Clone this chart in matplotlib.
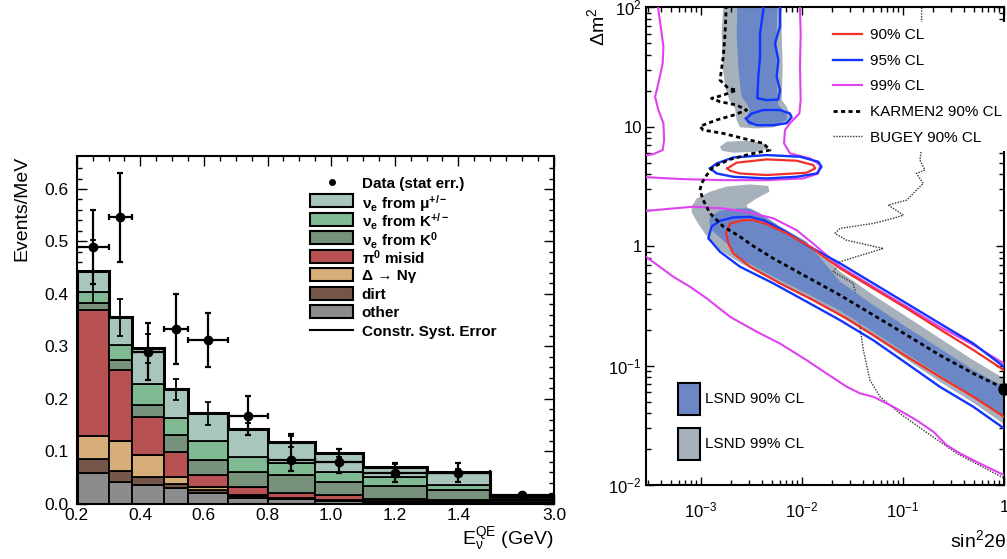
import numpy as np
import matplotlib.pyplot as plt
from matplotlib.lines import Line2D
from matplotlib.patches import Rectangle
from matplotlib.ticker import FixedLocator, LogLocator, NullFormatter

plt.rcParams['font.family'] = ['Liberation Sans', 'DejaVu Sans']
plt.rcParams['mathtext.fontset'] = 'custom'
plt.rcParams['mathtext.rm'] = 'Liberation Sans'
plt.rcParams['mathtext.it'] = 'Liberation Sans:italic'
plt.rcParams['mathtext.bf'] = 'Liberation Sans:bold'

# ---------------- left panel: nu_e candidate spectrum ----------------
edges = [0.2, 0.3, 0.375, 0.475, 0.55, 0.675, 0.8, 0.95, 1.1, 1.3, 1.5, 3.0]
other = [0.058, 0.041, 0.035, 0.029, 0.020, 0.011, 0.008, 0.005, 0.0035, 0.0025, 0.001]
dirt = [0.028, 0.021, 0.016, 0.008, 0.006, 0.0035, 0.001, 0.0015, 0.001, 0.001, 0.0005]
delta = [0.043, 0.057, 0.042, 0.013, 0.005, 0.0015, 0.001, 0.001, 0.0005, 0.0005, 0.0005]
pi0 = [0.240, 0.136, 0.073, 0.049, 0.024, 0.016, 0.011, 0.0085, 0.004, 0.002, 0.001]
k0 = [0.013, 0.018, 0.023, 0.032, 0.029, 0.029, 0.033, 0.025, 0.025, 0.019, 0.003]
kpm = [0.021, 0.030, 0.039, 0.033, 0.035, 0.027, 0.024, 0.020, 0.016, 0.011, 0.003]
mu = [0.040, 0.052, 0.068, 0.054, 0.053, 0.054, 0.040, 0.035, 0.019, 0.025, 0.006]
syst = [0.060, 0.036, 0.027, 0.020, 0.022, 0.011, 0.010, 0.008, 0.006, 0.005, 0.002]

data_y = [0.489, 0.546, 0.290, 0.333, 0.312, 0.168, 0.083, 0.080, 0.058, 0.058, 0.017]
data_lo = [0.071, 0.085, 0.054, 0.067, 0.051, 0.037, 0.021, 0.022, 0.016, 0.017, 0.003]
data_hi = [0.071, 0.085, 0.054, 0.067, 0.051, 0.037, 0.049, 0.024, 0.020, 0.019, 0.003]

stack = [other, dirt, delta, pi0, k0, kpm, mu]
stack_colors = ['#8c8c8c', '#74574a', '#d7ad7a', '#b85252', '#77917b', '#80ba92', '#a9c6bd']
stack_labels = ['other', 'dirt', 'Δ → Nγ', r'π$^{\mathbf{0}}$ misid',
                r'ν$_{\mathbf{e}}$ from K$^{\mathbf{0}}$', r'ν$_{\mathbf{e}}$ from K$^{\mathbf{+/-}}$',
                r'ν$_{\mathbf{e}}$ from μ$^{\mathbf{+/-}}$']

# ---------------- right panel: sin^2 2theta vs dm^2 ----------------
# 99% CL (magenta) pieces
m99a_x = [3.75e-4, 3.78e-4, 3.99e-4, 4.24e-4, 4.17e-4, 3.78e-4, 3.51e-4, 3.78e-4, 4.24e-4, 4.31e-4, 4.17e-4, 3.37e-4, 2.90e-4, 2.5e-4]
m99a_y = [105, 94.8, 68.9, 46.8, 34.0, 23.1, 17.8, 13.8, 10.7, 7.73, 6.38, 5.90, 5.79, 5.75]
m99b_x = [9.55e-3, 9.55e-3, 9.70e-3, 9.55e-3, 9.70e-3, 9.40e-3, 7.60e-3, 6.78e-3, 6.64e-3, 7.60e-3, 1.20e-2, 1.51e-2, 1.45e-2, 1.03e-2, 4.47e-3, 1.66e-3, 6.19e-4, 3.01e-4, 2.5e-4]
m99b_y = [105, 94.8, 60.5, 31.8, 16.7, 12.9, 10.7, 9.38, 7.26, 5.98, 5.43, 4.78, 4.06, 3.69, 3.57, 3.57, 3.65, 3.77, 3.80]
m99c_x = [2.5e-4, 3.01e-4, 5.32e-4, 8.39e-4, 1.66e-3, 2.83e-3, 5.20e-3, 8.85e-3, 1.29e-2, 2.38e-2, 5.08e-2, 0.109, 0.232, 0.497, 1.0]
m99c_y = [1.97, 1.98, 2.07, 2.14, 2.07, 1.94, 1.71, 1.36, 1.05, 0.673, 0.457, 0.311, 0.211, 0.149, 0.104]
m99d_x = [2.5e-4, 3.01e-4, 5.32e-4, 7.78e-4, 1.14e-3, 1.94e-3, 3.56e-3, 6.05e-3, 1.11e-2, 1.75e-2, 2.77e-2, 3.75e-2, 5.08e-2, 8.02e-2, 0.136, 0.200, 0.270, 0.366, 0.536, 1.0]
m99d_y = [0.88, 0.789, 0.554, 0.457, 0.365, 0.256, 0.192, 0.153, 0.111, 0.0859, 0.0665, 0.0585, 0.0548, 0.0452, 0.0349, 0.0279, 0.0216, 0.0184, 0.0156, 0.0121]

# 95% CL (blue) pieces
b95a_x = [4.14e-3, 4.14e-3, 3.84e-3, 3.84e-3, 3.69e-3, 3.61e-3, 4.47e-3, 5.83e-3, 6.05e-3, 5.61e-3, 5.83e-3, 5.40e-3, 6.05e-3, 6.05e-3]
b95a_y = [105, 94.8, 60.5, 38.5, 26.2, 17.3, 16.7, 16.9, 20.3, 26.2, 36.2, 49.9, 68.9, 105]
b95b_x = [2.79e-3, 3.18e-3, 4.14e-3, 6.05e-3, 7.60e-3, 7.89e-3, 7.05e-3, 5.20e-3, 3.56e-3, 2.94e-3, 2.79e-3]
b95b_y = [11.7, 12.9, 13.8, 13.8, 12.9, 12.0, 10.7, 10.3, 10.3, 11.0, 11.7]
b95c_x = [1.23e-3, 1.43e-3, 2.09e-3, 4.47e-3, 9.55e-3, 1.45e-2, 1.56e-2, 1.40e-2, 8.85e-3, 4.47e-3, 2.09e-3, 1.43e-3, 1.23e-3]
b95c_y = [4.48, 4.93, 5.53, 5.79, 5.61, 5.09, 4.62, 4.06, 3.81, 3.69, 3.81, 4.06, 4.48]
b95d_x = [1.0, 0.497, 0.232, 0.109, 5.08e-2, 2.38e-2, 1.11e-2, 6.53e-3, 4.14e-3, 3.05e-3, 2.09e-3, 1.54e-3, 1.27e-3, 1.18e-3, 1.23e-3, 1.54e-3, 2.43e-3, 5.20e-3, 1.11e-2, 2.38e-2, 5.08e-2, 0.109, 0.232, 0.497, 1.0]
b95d_y = [0.0977, 0.153, 0.225, 0.331, 0.488, 0.718, 1.02, 1.36, 1.65, 1.76, 1.74, 1.63, 1.46, 1.16, 1.12, 0.898, 0.673, 0.488, 0.343, 0.240, 0.163, 0.104, 0.0664, 0.0452, 0.0298]

# 90% CL (red) pieces
r90a_x = [1.82e-3, 2.25e-3, 4.47e-3, 8.85e-3, 1.29e-2, 1.35e-2, 1.11e-2, 4.47e-3, 2.43e-3, 1.94e-3, 1.82e-3]
r90a_y = [4.48, 5.00, 5.33, 5.19, 4.78, 4.48, 4.12, 3.94, 4.06, 4.28, 4.48]
r90b_x = [1.0, 0.497, 0.232, 0.109, 5.08e-2, 2.38e-2, 1.20e-2, 7.05e-3, 4.47e-3, 3.30e-3, 2.62e-3, 1.94e-3, 1.77e-3, 1.87e-3, 2.09e-3, 3.05e-3, 6.05e-3, 1.29e-2, 2.77e-2, 5.08e-2, 0.109, 0.232, 0.497, 1.0]
r90b_y = [0.0916, 0.135, 0.201, 0.301, 0.443, 0.652, 0.989, 1.28, 1.53, 1.65, 1.65, 1.55, 1.28, 1.05, 0.869, 0.673, 0.488, 0.353, 0.248, 0.180, 0.119, 0.0805, 0.0548, 0.0373]

# KARMEN2 and BUGEY 90% CL
karmen_x = [1.77e-3, 1.77e-3, 1.73e-3, 1.66e-3, 1.54e-3, 1.87e-3, 2.25e-3, 1.66e-3, 1.27e-3, 1.54e-3, 2.25e-3, 2.83e-3, 2.09e-3, 1.43e-3, 9.77e-4, 1.05e-3, 1.66e-3, 2.62e-3, 4.14e-3, 4.82e-3, 3.05e-3, 1.94e-3, 1.32e-3, 1.14e-3, 1.01e-3, 9.77e-4, 1.05e-3, 1.23e-3, 1.66e-3, 2.43e-3, 3.30e-3, 5.20e-3, 1.11e-2, 2.38e-2, 5.08e-2, 0.109, 0.232, 0.497, 1.0]
karmen_y = [105, 94.8, 60.5, 38.5, 24.6, 20.9, 20.3, 18.4, 17.3, 16.2, 15.2, 13.8, 12.5, 11.4, 10.1, 9.38, 8.79, 7.98, 7.26, 6.38, 5.90, 5.33, 4.62, 3.94, 3.35, 2.95, 2.43, 1.88, 1.46, 1.20, 1.00, 0.789, 0.554, 0.389, 0.265, 0.180, 0.122, 0.0859, 0.0644]
bugey_x = [0.153, 0.151, 0.147, 0.165, 0.136, 0.159, 0.136, 0.109, 0.0714, 0.101, 0.0802, 0.0508, 0.0238, 0.0212, 0.0277, 0.0638, 0.0238, 0.0204, 0.0322, 0.0361, 0.0375, 0.0405, 0.0471, 0.0592, 0.0933, 0.159, 0.340, 1.0]
bugey_y = [105, 6.18, 5.26, 4.34, 4.06, 3.35, 2.95, 2.43, 2.21, 1.82, 1.71, 1.55, 1.41, 1.28, 1.12, 0.957, 0.740, 0.611, 0.488, 0.311, 0.211, 0.135, 0.0755, 0.0548, 0.0397, 0.0288, 0.0184, 0.0114]

# LSND allowed regions
g99a_x = [1.66e-3, 1.60e-3, 1.64e-3, 1.73e-3, 1.91e-3, 2.17e-3, 2.25e-3, 2.43e-3, 3.56e-3, 5.20e-3, 7.31e-3, 7.72e-3, 7.05e-3, 6.30e-3, 6.43e-3, 6.30e-3, 6.30e-3]
g99a_y = [105, 60.5, 31.8, 21.6, 16.7, 14.3, 11.4, 9.88, 9.68, 9.88, 10.8, 12.5, 14.7, 16.7, 31.8, 60.5, 105]
g99b_x = [1.54e-3, 1.79e-3, 2.83e-3, 4.14e-3, 4.64e-3, 3.56e-3, 2.09e-3, 1.60e-3]
g99b_y = [6.80, 7.50, 7.64, 7.26, 6.59, 6.18, 6.06, 6.29]
g99c_x = [8.07e-4, 9.05e-4, 1.23e-3, 1.79e-3, 3.05e-3, 4.64e-3, 4.74e-3, 3.56e-3, 2.83e-3, 3.05e-3, 4.82e-3, 8.85e-3, 1.29e-2, 2.38e-2, 5.08e-2, 0.109, 0.232, 0.497, 1.0,
          1.0, 0.497, 0.232, 0.109, 5.08e-2, 2.38e-2, 1.11e-2, 5.20e-3, 2.43e-3, 1.54e-3, 1.27e-3, 1.09e-3, 9.77e-4, 8.71e-4, 8.07e-4]
g99c_y = [2.14, 2.51, 2.86, 3.15, 3.29, 3.19, 2.86, 2.51, 2.21, 1.88, 1.55, 1.16, 0.989, 0.611, 0.389, 0.256, 0.169, 0.111, 0.078,
          0.0324, 0.0488, 0.0731, 0.1125, 0.174, 0.259, 0.372, 0.520, 0.726, 0.927, 1.09, 1.28, 1.46, 1.71, 1.94]
b90a_x = [2.29e-3, 2.25e-3, 2.34e-3, 2.43e-3, 2.52e-3, 2.83e-3, 3.05e-3, 2.83e-3, 2.94e-3, 5.20e-3, 7.05e-3, 7.05e-3, 5.83e-3, 5.61e-3, 5.61e-3, 5.70e-3]
b90a_y = [105, 60.5, 31.8, 23.1, 17.8, 15.7, 13.8, 12.1, 10.3, 10.1, 11.4, 12.9, 15.2, 23.1, 60.5, 105]
b90b_x = [1.23e-3, 1.54e-3, 2.25e-3, 3.05e-3, 3.84e-3, 6.05e-3, 1.11e-2, 2.38e-2, 5.08e-2, 0.109, 0.232, 0.497, 1.0,
          1.0, 0.497, 0.232, 0.109, 5.08e-2, 2.38e-2, 1.11e-2, 5.20e-3, 2.43e-3, 1.87e-3, 1.27e-3, 1.21e-3]
b90b_y = [1.76, 1.98, 2.07, 2.07, 1.88, 1.46, 1.09, 0.504, 0.321, 0.209, 0.139, 0.0916, 0.0664,
          0.0378, 0.0555, 0.0832, 0.125, 0.192, 0.288, 0.402, 0.554, 0.789, 1.02, 1.36, 1.60]
best_x = [1.0]
best_y = [0.064]

fig = plt.figure(figsize=(10.07, 5.59), dpi=100)

# ======================= left panel =======================
ax1 = fig.add_axes([0.0762, 0.0991, 0.4740, 0.6219])
K = 0.134


def fwd(e):
    e = np.asarray(e, float)
    return np.where(e <= 1.5, e, 1.5 + (e - 1.5) * K)


def inv(u):
    u = np.asarray(u, float)
    return np.where(u <= 1.5, u, 1.5 + (u - 1.5) / K)


ax1.set_xscale('function', functions=(fwd, inv))
e = np.array(edges)
widths = np.diff(e)
centers = 0.5 * (e[:-1] + e[1:])
bottom = np.zeros(len(widths))
for vals, col in zip(stack, stack_colors):
    ax1.bar(e[:-1], vals, width=widths, bottom=bottom, align='edge',
            color=col, edgecolor='black', linewidth=1.3, zorder=2)
    bottom = bottom + np.array(vals)
total = bottom
ax1.stairs(total, e, baseline=0, color='black', linewidth=2.2, zorder=3)
ax1.errorbar(centers, total, yerr=syst, fmt='none', ecolor='black',
             elinewidth=1.3, capsize=2, capthick=1.3, zorder=4)
ax1.errorbar(centers, data_y, xerr=widths / 2, yerr=[data_lo, data_hi], fmt='o',
             color='black', ms=6, elinewidth=1.6, capsize=2, capthick=1.6, zorder=5)

ax1.set_xlim(0.2, 3.0)
ax1.set_ylim(0, 0.663)
ax1.xaxis.set_major_locator(FixedLocator([0.2, 0.4, 0.6, 0.8, 1.0, 1.2, 1.4, 3.0]))
ax1.set_xticklabels(['0.2', '0.4', '0.6', '0.8', '1.0', '1.2', '1.4', '3.0'])
minor_x = [v for v in np.round(np.arange(0.25, 1.51, 0.05), 3) if round(v * 10 % 2, 3) not in (0.0, 2.0)]
ax1.xaxis.set_minor_locator(FixedLocator(minor_x + [1.875, 2.25, 2.625]))
ax1.xaxis.set_minor_formatter(NullFormatter())
ax1.set_yticks([0.0, 0.1, 0.2, 0.3, 0.4, 0.5, 0.6])
ax1.set_yticklabels(['0.0', '0.1', '0.2', '0.3', '0.4', '0.5', '0.6'])
ax1.yaxis.set_minor_locator(FixedLocator(np.arange(0.02, 0.66, 0.02)))
ax1.tick_params(which='both', direction='in', top=True, right=True, width=1.0, labelsize=12.5)
ax1.tick_params(which='major', length=7)
ax1.tick_params(which='minor', length=3.5)
ax1.tick_params(axis='y', pad=6)
for s in ax1.spines.values():
    s.set_linewidth(1.5)
ax1.set_ylabel('Events/MeV', fontsize=14, loc='top', labelpad=10)
ax1.set_xlabel(r'E$_{\mathrm{\nu}}^{\mathrm{QE}}$ (GeV)', fontsize=14, loc='right', labelpad=2)

# legend drawn row by row (axes fractions)
row_top, row_step = 0.9243, 0.0532
px0, pw, ph, tx = 0.489, 0.090, 0.0374, 0.597
leg_rows = ['Data (stat err.)'] + stack_labels[::-1] + ['Constr. Syst. Error']
leg_cols = [None] + stack_colors[::-1] + [None]
for i, (lab, col) in enumerate(zip(leg_rows, leg_cols)):
    yc = row_top - i * row_step
    if i == 0:
        ax1.plot([px0 + pw / 2], [yc], 'o', color='black', ms=4, transform=ax1.transAxes)
    elif col is None:
        ax1.plot([px0, px0 + pw], [yc, yc], color='black', lw=1.5, transform=ax1.transAxes)
    else:
        ax1.add_patch(Rectangle((px0, yc - ph / 2), pw, ph, facecolor=col, edgecolor='black',
                                lw=1.5, transform=ax1.transAxes, zorder=6))
    ax1.text(tx, yc, lab, transform=ax1.transAxes, fontsize=11, fontweight='bold',
             ha='left', va='center_baseline')

# ======================= right panel =======================
ax2 = fig.add_axes([0.6415, 0.1324, 0.3555, 0.8545])
ax2.set_xscale('log')
ax2.set_yscale('log')
gray = '#a6b1bb'
blue_fill = '#6b87c6'
ax2.fill(g99a_x, g99a_y, color=gray, lw=0, zorder=1)
ax2.fill(g99b_x, g99b_y, color=gray, lw=0, zorder=1)
ax2.fill(g99c_x, g99c_y, color=gray, lw=0, zorder=1)
ax2.fill(b90a_x, b90a_y, color=blue_fill, lw=0, zorder=2)
ax2.fill(b90b_x, b90b_y, color=blue_fill, lw=0, zorder=2)

mag = '#e042ef'
blu = '#1234ff'
red = '#f0302a'
for xs, ys in [(m99a_x, m99a_y), (m99b_x, m99b_y), (m99c_x, m99c_y), (m99d_x, m99d_y)]:
    ax2.plot(xs, ys, color=mag, lw=1.5, zorder=3)
for xs, ys in [(b95a_x, b95a_y), (b95b_x, b95b_y), (b95c_x, b95c_y), (b95d_x, b95d_y)]:
    ax2.plot(xs, ys, color=blu, lw=1.7, zorder=4)
for xs, ys in [(r90a_x, r90a_y), (r90b_x, r90b_y)]:
    ax2.plot(xs, ys, color=red, lw=1.6, zorder=5)
ax2.plot(karmen_x, karmen_y, color='black', lw=2.0, ls=(0, (1.5, 1.2)), zorder=6)
ax2.plot(bugey_x, bugey_y, color='#333333', lw=1.0, ls=(0, (1, 1)), zorder=1.5)
ax2.plot(best_x, best_y, 'o', color='black', ms=8, zorder=7, clip_on=False)

ax2.set_xlim(2.85e-4, 1.0)
ax2.set_ylim(1e-2, 1e2)
ax2.xaxis.set_major_locator(FixedLocator([1e-3, 1e-2, 1e-1, 1.0]))
ax2.set_xticklabels([r'$10^{-3}$', r'$10^{-2}$', r'$10^{-1}$', '1'])
ax2.yaxis.set_major_locator(FixedLocator([1e-2, 1e-1, 1.0, 10.0, 100.0]))
ax2.set_yticklabels([r'$10^{-2}$', r'$10^{-1}$', '1', '10', r'$10^{2}$'])
ax2.xaxis.set_minor_locator(LogLocator(base=10, subs=np.arange(2, 10), numticks=20))
ax2.yaxis.set_minor_locator(LogLocator(base=10, subs=np.arange(2, 10), numticks=20))
ax2.xaxis.set_minor_formatter(NullFormatter())
ax2.yaxis.set_minor_formatter(NullFormatter())
ax2.tick_params(which='both', direction='in', top=True, right=True, width=1.0, labelsize=12)
ax2.tick_params(which='major', length=6)
ax2.tick_params(which='minor', length=3.5)
ax2.tick_params(axis='x', pad=11)
ax2.tick_params(axis='y', pad=3)
for s in ax2.spines.values():
    s.set_linewidth(1.5)
ax2.text(-0.137, 1.0, r'Δm$^2$', transform=ax2.transAxes, rotation=90,
         ha='center', va='top', fontsize=14)
ax2.text(1.006, -0.115, r'sin$^2$2θ', transform=ax2.transAxes,
         ha='right', va='center', fontsize=14, clip_on=False)

h2 = [Line2D([], [], color=red, lw=1.6), Line2D([], [], color=blu, lw=1.7),
      Line2D([], [], color=mag, lw=1.5),
      Line2D([], [], color='black', lw=2.0, ls=(0, (1.5, 1.2))),
      Line2D([], [], color='#333333', lw=1.0, ls=(0, (1, 1)))]
l2 = ['90% CL', '95% CL', '99% CL', 'KARMEN2 90% CL', 'BUGEY 90% CL']
leg2 = ax2.legend(h2, l2, loc='upper left', bbox_to_anchor=(0.506, 0.969), fontsize=11,
                  frameon=True, fancybox=False, framealpha=1, edgecolor='none',
                  handlelength=1.9, handletextpad=0.5, labelspacing=0.76,
                  borderpad=0.4, borderaxespad=0)
leg2.set_zorder(10)

# LSND region key
for yb, col, lab in [(0.1465, blue_fill, 'LSND 90% CL'), (0.0523, gray, 'LSND 99% CL')]:
    ax2.add_patch(Rectangle((0.0894, yb), 0.0615, 0.067, facecolor=col, edgecolor='black',
                            lw=1.5, transform=ax2.transAxes, zorder=8))
    ax2.text(0.165, yb + 0.0335, lab, transform=ax2.transAxes, fontsize=11,
             ha='left', va='center', zorder=8)

fig.savefig('out.png', dpi=100)
